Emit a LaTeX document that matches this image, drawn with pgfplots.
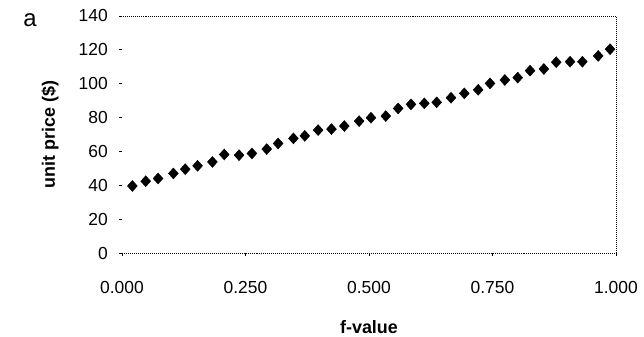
\documentclass[border=0pt]{standalone}
\usepackage{pgfplots}
\pgfplotsset{compat=1.18}
\usepackage{fontspec}
\setmainfont{Liberation Sans}
\begin{document}
\begin{tikzpicture}
\useasboundingbox (-122bp,-84bp) rectangle (522bp,253bp);
\begin{axis}[
  scale only axis,
  width=494bp, height=237bp,
  at={(0,0)}, anchor=south west,
  xmin=0, xmax=1, ymin=0, ymax=140,
  xtick={0,0.25,0.5,0.75,1},
  xticklabels={0.000,0.250,0.500,0.750,1.000},
  ytick={0,20,...,140},
  axis line style={draw=none},
  tick align=outside,
  major tick length=3bp,
  tick style={black, line width=0.8pt},
  xtick pos=bottom, ytick pos=left,
  /pgf/number format/assume math mode=true,
  ticklabel style={font=\fontsize{17.5}{20}\selectfont},
  yticklabel style={inner sep=0pt, anchor=east, xshift=-11bp},
  xticklabel style={inner sep=0pt, anchor=north, yshift=-25bp},
  xlabel={f-value},
  ylabel={unit price (\$)},
  xlabel style={font=\bfseries\fontsize{18}{20}\selectfont, at={(axis description cs:0.5,-0.312)}, anchor=center},
  ylabel style={font=\bfseries\fontsize{18}{20}\selectfont, at={(axis description cs:-0.1457,0.5)}, anchor=center, rotate=0},
  clip=false,
]
\draw[black, densely dotted, line width=1pt] (rel axis cs:0,0) -- (rel axis cs:1,0) -- (rel axis cs:1,1) -- (rel axis cs:0,1);
\addplot[only marks, mark=diamond*, mark size=5.5bp, black, mark options={xscale=1.2}] coordinates {
(0.021,39.6) (0.048,42.4) (0.073,44.0) (0.104,47.0) (0.128,49.5) (0.153,51.5)
(0.183,53.8) (0.207,58.2) (0.237,57.8) (0.263,58.8) (0.293,61.4) (0.316,64.7)
(0.347,67.7) (0.370,69.2) (0.397,72.6) (0.424,73.2) (0.450,75.0) (0.480,77.9)
(0.504,79.9) (0.534,80.9) (0.559,85.4) (0.585,87.8) (0.612,88.4) (0.637,89.0)
(0.666,91.7) (0.693,94.3) (0.721,96.4) (0.745,100.2) (0.775,102.2) (0.801,103.6)
(0.826,107.7) (0.854,108.7) (0.879,112.7) (0.907,113.0) (0.932,113.0) (0.964,116.4)
(0.988,120.4)
};
\end{axis}
\node[font=\fontsize{24}{26}\selectfont, anchor=center] at (-92bp,233bp) {a};
\end{tikzpicture}
\end{document}
